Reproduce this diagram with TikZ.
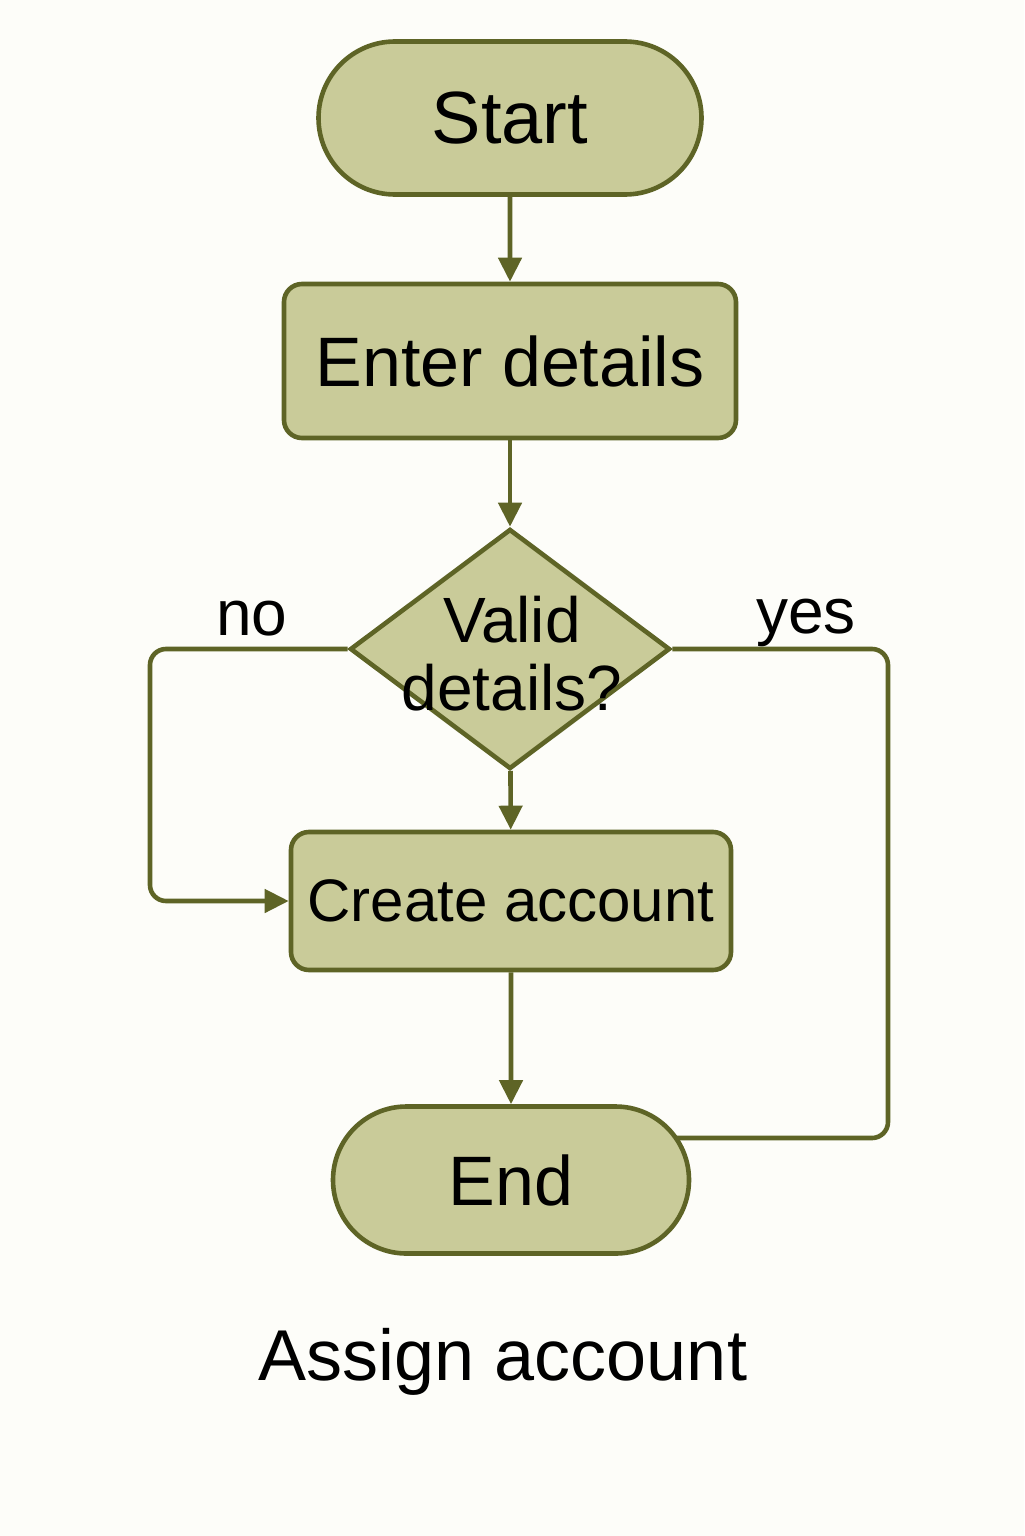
\documentclass[tikz,border=0pt]{standalone}
\usepackage{fontspec}
\setmainfont{Liberation Sans}
\usetikzlibrary{shapes.misc,shapes.geometric,arrows.meta,backgrounds}
\definecolor{boxfill}{HTML}{C9CB99}
\definecolor{olive}{HTML}{5E6426}
\definecolor{paper}{HTML}{FDFDF9}
\tikzset{
  term/.style={rounded rectangle, draw=olive, fill=boxfill, line width=2.3pt, inner sep=0pt},
  proc/.style={rectangle, rounded corners=9pt, draw=olive, fill=boxfill, line width=2.3pt, inner sep=0pt},
  dec/.style={diamond, draw=olive, fill=boxfill, line width=2.3pt, inner sep=0pt, minimum width=160pt, minimum height=120pt},
  conn/.style={draw=olive, line width=2.3pt},
  arr/.style={conn, -{Triangle[length=12pt,width=11.5pt]}},
  mid/.style={font=\fontsize{32}{34}\selectfont},
  lbl/.style={font=\fontsize{32}{38}\selectfont},
}
\begin{document}
\begin{tikzpicture}[x=0.5pt,y=-0.5pt]
\useasboundingbox (0,0) rectangle (1024,1536);
\node[term, font=\fontsize{37}{44}\selectfont, minimum width=191.5pt, minimum height=76.5pt] (s) at (510,118) {Start};
\node[proc, font=\fontsize{35}{42}\selectfont, minimum width=226pt, minimum height=77pt] (e) at (510,361) {Enter details};
\node[dec] (d) at (510,649) {};
\node[mid, align=center, text height=24pt] (dt) at (512,687) {Valid\\details?};
\node[proc, font=\fontsize{30}{36}\selectfont, minimum width=220pt, minimum height=69pt] (c) at (511,901) {Create account};
\node[term, font=\fontsize{35}{42}\selectfont, minimum width=178pt, minimum height=73.5pt] (en) at (511,1180) {End};
\node[font=\fontsize{36}{42}\selectfont] (t) at (503,1362) {Assign account};
\node[lbl] (no) at (252,619) {no};
\node[lbl] (yes) at (806,623) {yes};
\coordinate (nl1) at (150,649);
\coordinate (yr1) at (888,649);
\coordinate (yr2) at (888,1138);
\begin{pgfonlayer}{background}
\fill[paper] (0,0) rectangle (1024,1536);
\draw[conn, rounded corners=8pt] (d.east) -- (yr1) -- (yr2) -- (en.center |- yr2);
\end{pgfonlayer}
\draw[arr] (s) -- (e);
\draw[arr] (e) -- (d);
\draw[arr] (d) -- (c);
\draw[arr] (c) -- (en);
\draw[arr, rounded corners=8pt] (d.west) -- (nl1) |- (c.west);
\end{tikzpicture}
\end{document}
